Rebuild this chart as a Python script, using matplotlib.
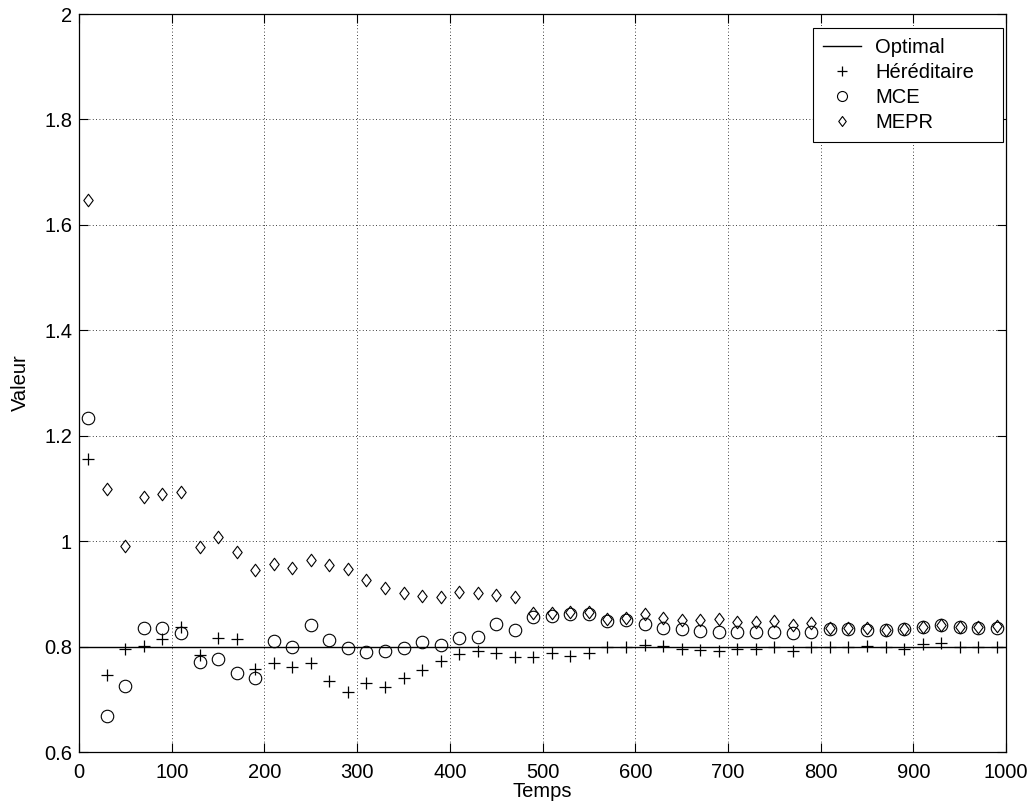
import matplotlib
matplotlib.use("Agg")
import matplotlib.pyplot as plt
from matplotlib.path import Path

temps = list(range(10, 1000, 20))

optimal = [0.8] * len(temps)

hereditaire = [1.156, 0.746, 0.795, 0.802, 0.815, 0.838, 0.784, 0.817, 0.814, 0.757,
               0.768, 0.762, 0.768, 0.734, 0.713, 0.730, 0.724, 0.740, 0.756, 0.772,
               0.786, 0.792, 0.787, 0.780, 0.781, 0.787, 0.783, 0.787, 0.799, 0.800,
               0.803, 0.801, 0.796, 0.794, 0.791, 0.796, 0.796, 0.799, 0.792, 0.799,
               0.800, 0.800, 0.801, 0.799, 0.795, 0.805, 0.806, 0.800, 0.800, 0.800]

mce = [1.233, 0.668, 0.726, 0.835, 0.836, 0.825, 0.770, 0.776, 0.749, 0.740,
       0.811, 0.799, 0.841, 0.813, 0.797, 0.790, 0.792, 0.797, 0.808, 0.803,
       0.817, 0.819, 0.842, 0.832, 0.857, 0.858, 0.861, 0.861, 0.849, 0.850,
       0.843, 0.835, 0.833, 0.830, 0.828, 0.828, 0.828, 0.828, 0.825, 0.828,
       0.833, 0.833, 0.832, 0.831, 0.833, 0.838, 0.841, 0.837, 0.835, 0.836]

mepr = [1.648, 1.099, 0.990, 1.083, 1.089, 1.093, 0.989, 1.007, 0.979, 0.946,
        0.956, 0.950, 0.965, 0.954, 0.947, 0.927, 0.911, 0.901, 0.895, 0.894,
        0.904, 0.901, 0.897, 0.894, 0.863, 0.863, 0.865, 0.865, 0.852, 0.854,
        0.861, 0.854, 0.851, 0.851, 0.852, 0.847, 0.847, 0.849, 0.841, 0.844,
        0.835, 0.835, 0.835, 0.832, 0.833, 0.838, 0.841, 0.838, 0.837, 0.839]

xticks = [0, 100, 200, 300, 400, 500, 600, 700, 800, 900, 1000]
yticks = [0.6, 0.8, 1.0, 1.2, 1.4, 1.6, 1.8, 2.0]
ytick_labels = ["0.6", "0.8", "1", "1.2", "1.4", "1.6", "1.8", "2"]

# MATLAB style diamond (a bit wider than 'd')
diamond = Path([(0, 1), (0.75, 0), (0, -1), (-0.75, 0), (0, 1)],
               [Path.MOVETO, Path.LINETO, Path.LINETO, Path.LINETO, Path.CLOSEPOLY])


def main():
    plt.rcParams['font.family'] = ['Liberation Sans', 'DejaVu Sans']
    plt.rcParams['font.size'] = 14.5

    fig = plt.figure(figsize=(10.36, 8.1), dpi=100)
    ax = fig.add_axes([0.0763, 0.0716, 0.8948, 0.9111])

    ax.plot([0, 1000], [optimal[0], optimal[-1]], '-', color='black', lw=1.0, label="Optimal")
    ax.plot(temps, hereditaire, '+', color='black', ms=9, mew=0.9, label="Héréditaire")
    ax.plot(temps, mce, 'o', mfc='none', mec='black', ms=9, mew=0.8, label="MCE")
    ax.plot(temps, mepr, marker=diamond, ls='none', mfc='none', mec='black', ms=9, mew=0.8,
            label="MEPR")

    ax.set_xlim(0, 1000)
    ax.set_ylim(0.6, 2.0)
    ax.set_xticks(xticks)
    ax.set_yticks(yticks)
    ax.set_yticklabels(ytick_labels)
    ax.tick_params(direction='in', top=True, right=True, length=6.5, width=0.8)
    ax.tick_params(axis='x', pad=8)
    ax.tick_params(axis='y', pad=5)
    ax.grid(True, linestyle=(0, (1, 3)), color='black', linewidth=0.6)
    for s in ax.spines.values():
        s.set_linewidth(0.9)

    ax.set_xlabel("Temps", labelpad=0)
    ax.set_ylabel("Valeur", labelpad=10)

    # expand mode keeps the text on the left and leaves room on the right, like MATLAB
    leg = ax.legend(loc='upper left', bbox_to_anchor=(0.7918, 0.881, 0.205, 0.1),
                    mode='expand', borderaxespad=0,
                    fancybox=False, framealpha=1, edgecolor='black',
                    handlelength=1.9, handletextpad=0.7, borderpad=0.5,
                    labelspacing=0.3, markerscale=0.8)
    leg.get_frame().set_linewidth(0.8)

    fig.savefig('out.png', dpi=100)


if __name__ == '__main__':
    main()
